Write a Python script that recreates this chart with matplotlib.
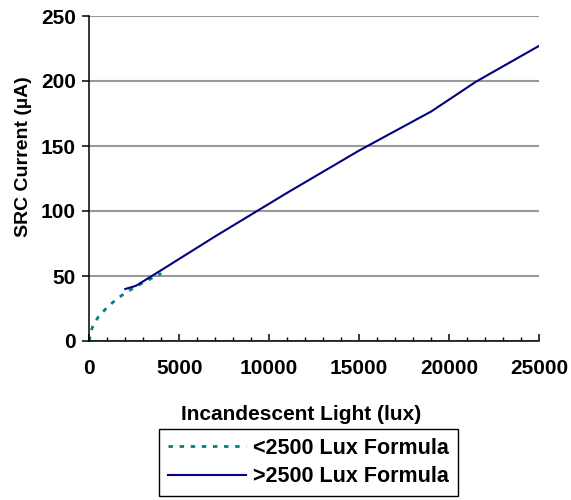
import matplotlib
matplotlib.use("Agg")
import matplotlib.pyplot as plt
from matplotlib.ticker import MultipleLocator

plt.rcParams['font.family'] = ['Liberation Sans', 'DejaVu Sans']
plt.rcParams['font.weight'] = 'bold'

# values
low_lux = [0, 100, 250, 500, 1000, 1500, 2000, 2500, 3000, 3500, 4000]
low_current = [0, 8, 13, 18.5, 26, 32, 37, 41, 45, 48.5, 52]

high_lux = [2000, 2600, 4000, 7000, 11000, 15000, 19000, 21500, 25000]
high_current = [40, 42.5, 54.5, 80.5, 114, 146.5, 176.5, 199.5, 227]

fig = plt.figure(figsize=(5.71, 5.0), dpi=100)
ax = fig.add_axes([89.3 / 571, 1 - 341 / 500, (539 - 89.3) / 571, (341 - 16) / 500])

ax.grid(axis='y', color='#999999', linewidth=1.5)
ax.set_axisbelow(True)

l1, = ax.plot(low_lux, low_current, color='#008080', linewidth=2.0,
              linestyle=(0, (1.6, 2.4)), label='<2500 Lux Formula')
l2, = ax.plot(high_lux, high_current, color='#000080', linewidth=1.5,
              label='>2500 Lux Formula')

ax.set_xlim(0, 25000)
ax.set_ylim(0, 250)
ax.xaxis.set_major_locator(MultipleLocator(5000))
ax.xaxis.set_minor_locator(MultipleLocator(1000))
ax.yaxis.set_major_locator(MultipleLocator(50))

for side in ['top', 'right']:
    ax.spines[side].set_visible(False)
for side in ['left', 'bottom']:
    ax.spines[side].set_linewidth(1.1)
    ax.spines[side].set_color('black')

ax.tick_params(axis='x', which='major', direction='in', length=5, width=1.1,
               pad=13, labelsize=15)
ax.tick_params(axis='x', which='minor', direction='in', length=3, width=1.0)
ax.tick_params(axis='y', which='major', direction='out', length=5, width=1.1,
               pad=4.5, labelsize=15)
for lab in ax.get_xticklabels() + ax.get_yticklabels():
    lab.set_fontweight('bold')

fig.text(301 / 571, 1 - 415 / 500, 'Incandescent Light (lux)', ha='center',
         va='center', fontsize=15, fontweight='bold')
fig.text(24 / 571, 1 - 157 / 500, 'SRC Current (\u00b5A)', ha='center',
         va='center', rotation=90, fontsize=14, fontweight='bold')

leg = fig.legend(handles=[l1, l2], loc='upper center',
                 bbox_to_anchor=(308.5 / 571, 1 - 429 / 500),
                 prop={'size': 15.5, 'weight': 'bold'}, frameon=True,
                 fancybox=False, framealpha=1, edgecolor='black',
                 handlelength=3.6, handletextpad=0.35, labelspacing=0.35,
                 borderpad=0.4, borderaxespad=0)
leg.get_frame().set_linewidth(1.0)

fig.savefig('out.png', dpi=100)
